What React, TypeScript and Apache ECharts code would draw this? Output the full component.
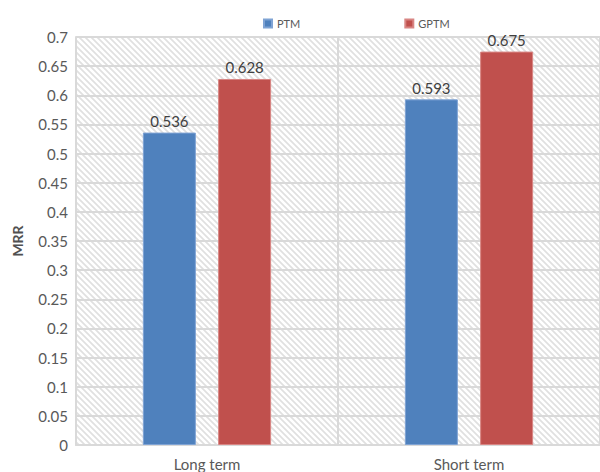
import React, { useEffect, useRef } from "react";
import * as echarts from "echarts";

const categories = ["Long term", "Short term"];
const seriesNames = ["PTM", "GPTM"];
const ptmValues = [0.536, 0.593];
const gptmValues = [0.628, 0.675];
const yTicks = { min: 0, max: 0.7, interval: 0.05 };

function makeHatch(): HTMLCanvasElement {
  const c = document.createElement("canvas");
  const s = 6;
  c.width = s;
  c.height = s;
  const ctx = c.getContext("2d")!;
  ctx.fillStyle = "#ffffff";
  ctx.fillRect(0, 0, s, s);
  ctx.strokeStyle = "#e0e0e0";
  ctx.lineWidth = 1.7;
  ctx.beginPath();
  ctx.moveTo(-1, -1);
  ctx.lineTo(s + 1, s + 1);
  ctx.moveTo(-1, s - 1);
  ctx.lineTo(1, s + 1);
  ctx.moveTo(s - 1, -1);
  ctx.lineTo(s + 1, 1);
  ctx.stroke();
  return c;
}

export default function App() {
  const ref = useRef<HTMLDivElement>(null);
  useEffect(() => {
    if (!ref.current) return;
    const chart = echarts.init(ref.current, null, { renderer: "svg" });
    const font = "Lato, 'Open Sans', sans-serif";
    chart.setOption({
      animation: false,
      textStyle: { fontFamily: font },
      legend: {
        data: seriesNames,
        left: 258,
        top: 13,
        itemWidth: 8,
        itemHeight: 8,
        itemGap: 104,
        icon: "rect",
        textStyle: { fontSize: 11, color: "#595959", fontFamily: font },
      },
      grid: {
        left: 76,
        right: -7,
        top: 37,
        bottom: 27,
        show: true,
        backgroundColor: { image: makeHatch(), repeat: "repeat" } as any,
        borderWidth: 0,
      },
      xAxis: {
        type: "category",
        data: categories,
        axisLine: { show: true, lineStyle: { color: "#d9d9d9", width: 2 } },
        axisTick: { show: false },
        splitLine: { show: true, lineStyle: { color: "#d9d9d9", width: 2 } },
        axisLabel: { fontSize: 15, color: "#595959", margin: 11, fontFamily: font },
      },
      yAxis: {
        type: "value",
        min: yTicks.min,
        max: yTicks.max,
        interval: yTicks.interval,
        name: "MRR",
        nameLocation: "middle",
        nameGap: 52,
        nameTextStyle: { fontSize: 14, fontWeight: "bold", color: "#505050", fontFamily: font },
        axisLine: { show: true, lineStyle: { color: "#d9d9d9", width: 2 } },
        axisTick: { show: false },
        splitLine: { show: true, lineStyle: { color: "#d9d9d9", width: 2 } },
        axisLabel: {
          fontSize: 15,
          color: "#595959",
          margin: 8,
          fontFamily: font,
          formatter: (v: number) => String(Math.round(v * 100) / 100),
        },
      },
      series: [
        {
          name: seriesNames[0],
          type: "bar",
          data: ptmValues,
          barWidth: 53,
          barGap: "42%",
          itemStyle: { color: "#4f81bd", borderColor: "#7fa3d4", borderWidth: 1 },
          label: { show: true, position: "top", fontSize: 15, color: "#404040", distance: 4, fontFamily: font },
        },
        {
          name: seriesNames[1],
          type: "bar",
          data: gptmValues,
          barWidth: 53,
          itemStyle: { color: "#c0504d", borderColor: "#d88583", borderWidth: 1 },
          label: { show: true, position: "top", fontSize: 15, color: "#404040", distance: 4, fontFamily: font },
        },
      ],
    });
    return () => chart.dispose();
  }, []);
  return (
    <div
      ref={ref}
      style={{ position: "absolute", left: 0, top: 0, width: 600, height: 472 }}
    />
  );
}
